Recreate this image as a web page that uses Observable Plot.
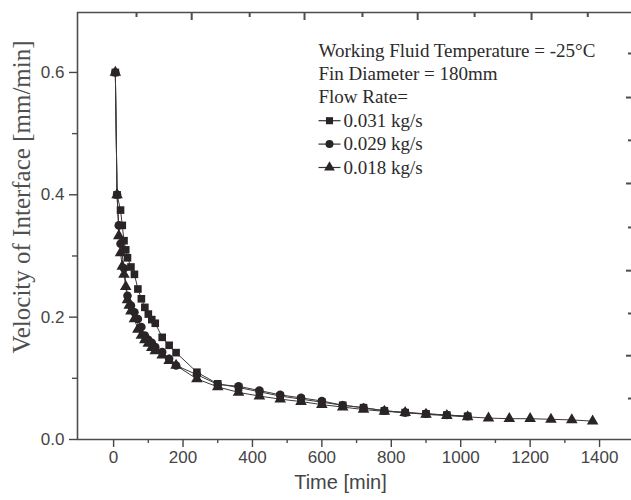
<!DOCTYPE html>
<html>
<head>
<meta charset="utf-8">
<script src="https://cdn.jsdelivr.net/npm/d3@7"></script>
<script src="https://cdn.jsdelivr.net/npm/@observablehq/plot@0.6"></script>
<style>
  html, body { margin: 0; padding: 0; background: #fff; }
  #chart { width: 631px; height: 500px; overflow: hidden; }
</style>
</head>
<body>
<div id="chart"></div>
<script>
// ---- Series ----
const seriesNames = ["0.031 kg/s", "0.029 kg/s", "0.018 kg/s"];
const seriesSymbols = ["square", "circle", "triangle"];

const timeSquare = [5, 10, 20, 25, 30, 35, 40, 50, 60, 70, 80, 90, 100, 110, 120, 140, 160, 180, 240, 300, 360, 420, 480, 540, 600, 660, 720, 780, 840, 900, 960, 1020];
const velSquare  = [0.600, 0.400, 0.375, 0.350, 0.325, 0.310, 0.297, 0.282, 0.270, 0.246, 0.230, 0.216, 0.205, 0.196, 0.190, 0.167, 0.154, 0.142, 0.110, 0.091, 0.085, 0.078, 0.071, 0.066, 0.061, 0.056, 0.052, 0.047, 0.044, 0.042, 0.040, 0.038];

const timeCircle = [5, 10, 15, 20, 30, 40, 50, 60, 70, 80, 90, 100, 110, 120, 140, 160, 180, 240, 300, 360, 420, 480, 540, 600, 660, 720, 780, 840, 900, 960, 1020];
const velCircle  = [0.600, 0.400, 0.350, 0.320, 0.280, 0.235, 0.219, 0.208, 0.197, 0.184, 0.170, 0.163, 0.158, 0.151, 0.143, 0.132, 0.121, 0.106, 0.090, 0.087, 0.080, 0.073, 0.068, 0.063, 0.056, 0.052, 0.047, 0.044, 0.042, 0.040, 0.038];

const timeTriangle = [5, 10, 15, 20, 25, 30, 35, 40, 45, 50, 60, 70, 80, 90, 100, 110, 120, 140, 160, 180, 240, 300, 360, 420, 480, 540, 600, 660, 720, 780, 840, 900, 960, 1020, 1080, 1140, 1200, 1260, 1320, 1380];
const velTriangle  = [0.600, 0.400, 0.333, 0.305, 0.283, 0.270, 0.250, 0.228, 0.219, 0.210, 0.197, 0.180, 0.170, 0.163, 0.157, 0.150, 0.145, 0.138, 0.129, 0.121, 0.099, 0.086, 0.077, 0.071, 0.066, 0.062, 0.057, 0.053, 0.049, 0.046, 0.044, 0.041, 0.039, 0.037, 0.035, 0.034, 0.034, 0.033, 0.032, 0.030];

// ---- Texts ----
const headerLines = ["Working Fluid Temperature = -25°C", "Fin Diameter = 180mm", "Flow Rate="];
const xLabel = "Time [min]";
const yLabel = "Velocity of Interface [mm/min]";

// ---- Ticks ----
const xTicks = [0, 200, 400, 600, 800, 1000, 1200, 1400];
const xMinorTicks = [100, 300, 500, 700, 900, 1100, 1300];
const yTicks = [0, 0.2, 0.4, 0.6];
const yMinorTicks = [0.1, 0.3, 0.5];
const topTicksMajor = [225, 550, 876, 1204];
const topTicksMinor = [66, 392, 717, 1040, 1366];
const rightTicksMajor = [0.559, 0.4185, 0.276, 0.137];
const rightTicksMinor = [0.631, 0.489, 0.3466, 0.206, 0.067];

// ---- Build table ----
const rows = [];
[[timeSquare, velSquare], [timeCircle, velCircle], [timeTriangle, velTriangle]].forEach(([ts, vs], i) => {
  ts.forEach((t, j) => rows.push({series: seriesNames[i], t, v: vs[j]}));
});

const xDomain = [-104, 1492];
const yDomain = [0, 0.698];
const axisColor = "#4d4d4d";
const textColor = "#454545";
const markColor = "#2a2427";
const serif = "'Liberation Serif', 'Times New Roman', serif";
const sans = "'Liberation Sans', Arial, sans-serif";

const lineSymbol = {draw(ctx) { ctx.moveTo(-11, 0); ctx.lineTo(11, 0); }};
const legendTop = 38, legendStep = 23.4;

const chart = Plot.plot({
  width: 631,
  height: 500,
  marginLeft: 77,
  marginRight: 0,
  marginTop: 12,
  marginBottom: 61,
  x: {domain: xDomain},
  y: {domain: yDomain},
  symbol: {domain: seriesNames, range: seriesSymbols},
  style: {fontFamily: sans, background: "#fff", overflow: "visible"},
  marks: [
    // frame lines
    Plot.ruleX([xDomain[0]], {stroke: axisColor, strokeWidth: 1.6}),
    Plot.ruleY([yDomain[0]], {stroke: axisColor, strokeWidth: 1.6}),
    Plot.ruleY([yDomain[1]], {stroke: axisColor, strokeWidth: 1.6}),
    // bottom axis
    Plot.axisX(xTicks, {anchor: "bottom", tickSize: 8, tickPadding: 3, fontSize: 17, color: textColor, strokeWidth: 1.4, label: null, tickFormat: d => String(d)}),
    Plot.axisX(xMinorTicks, {anchor: "bottom", tickSize: 4, color: axisColor, strokeWidth: 1.4, label: null, tickFormat: () => ""}),
    // left axis
    Plot.axisY(yTicks, {anchor: "left", tickSize: 8, tickPadding: 5, fontSize: 17, color: textColor, strokeWidth: 1.4, label: null, tickFormat: d3.format(".1f")}),
    Plot.axisY(yMinorTicks, {anchor: "left", tickSize: 5, color: axisColor, strokeWidth: 1.4, label: null, tickFormat: () => ""}),
    // top (inward) ticks
    Plot.tickX(topTicksMajor, {x: d => d, insetBottom: 419, stroke: axisColor, strokeWidth: 2}),
    Plot.tickX(topTicksMinor, {x: d => d, insetBottom: 422, stroke: axisColor, strokeWidth: 2}),
    // right (inward) ticks
    Plot.tickY(rightTicksMajor, {y: d => d, insetLeft: 549, stroke: axisColor, strokeWidth: 2}),
    Plot.tickY(rightTicksMinor, {y: d => d, insetLeft: 551, stroke: axisColor, strokeWidth: 2}),
    // axis titles
    Plot.text([xLabel], {frameAnchor: "bottom", dx: -14, dy: 43, text: d => d, lineAnchor: "middle", fontSize: 20, fill: textColor, fontFamily: sans}),
    Plot.text([yLabel], {frameAnchor: "left", dx: -56, dy: -29, rotate: -90, text: d => d, textAnchor: "middle", lineAnchor: "middle", fontSize: 25, fill: "#505050", fontFamily: serif}),
    // data
    Plot.line(rows, {x: "t", y: "v", z: "series", stroke: "#3a3a3a", strokeWidth: 1}),
    Plot.dot(rows, {x: "t", y: "v", symbol: "series", fill: markColor, stroke: "none", r: 4.3}),
    // legend
    ...headerLines.map((s, i) => Plot.text([s], {frameAnchor: "top-left", dx: 241, dy: legendTop + i * legendStep, text: d => d, textAnchor: "start", lineAnchor: "middle", fontSize: 19, fill: "#2b2b2b", fontFamily: serif})),
    ...seriesNames.flatMap((s, i) => [
      Plot.dot([s], {frameAnchor: "top-left", dx: 252, dy: legendTop + (i + 3) * legendStep, symbol: lineSymbol, stroke: "#333", strokeWidth: 1.2, r: 4}),
      Plot.dot([s], {frameAnchor: "top-left", dx: 252, dy: legendTop + (i + 3) * legendStep, symbol: d => d, fill: markColor, stroke: "none", r: 4}),
      Plot.text([s], {frameAnchor: "top-left", dx: 266, dy: legendTop + (i + 3) * legendStep, text: d => d, textAnchor: "start", lineAnchor: "middle", fontSize: 19, fill: "#2b2b2b", fontFamily: serif})
    ])
  ]
});
document.getElementById("chart").appendChild(chart);
</script>
</body>
</html>
